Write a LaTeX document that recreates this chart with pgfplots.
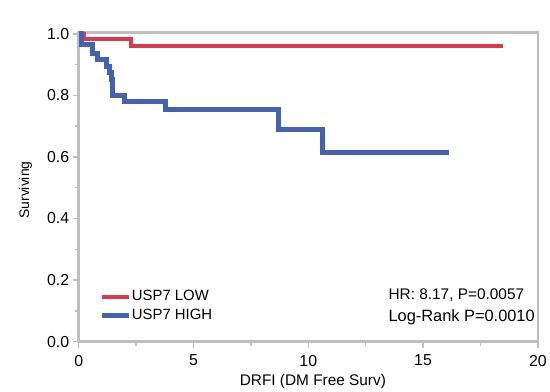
\documentclass[border=0pt]{standalone}
\usepackage{pgfplots}
\pgfplotsset{compat=1.18}
\usepackage{fontspec}
\setmainfont{Liberation Sans}
\definecolor{kmred}{HTML}{D93A4E}
\definecolor{kmblue}{HTML}{4562B0}
\definecolor{framegray}{HTML}{BEBEBE}
\begin{document}
\begin{tikzpicture}
\begin{axis}[
  scale only axis, width=461bp, height=310.5bp,
  xmin=0, xmax=20, ymin=0, ymax=1.005,
  axis line style={framegray, line width=2.5bp},
  xtick={0,5,10,15,20}, minor xtick={2.5,7.5,12.5,17.5},
  ytick={0,0.2,0.4,0.6,0.8,1.0}, minor ytick={0.1,0.3,0.5,0.7,0.9},
  yticklabel style={/pgf/number format/fixed, /pgf/number format/fixed zerofill, /pgf/number format/precision=1},
  xticklabel style={yshift=-4bp},
  /pgf/number format/assume math mode=true,
  tick align=outside, tick pos=left,
  major tick length=6bp, minor tick length=4bp,
  tick style={framegray, line width=1.5bp},
  ticklabel style={font=\fontsize{16}{18}\selectfont},
  xlabel={DRFI (DM Free Surv)},
  xlabel style={at={(axis description cs:0.51,-0.129)}, anchor=center, font=\fontsize{15.5}{18}\selectfont},
  ylabel={Surviving},
  ylabel style={at={(axis description cs:-0.116,0.49)}, anchor=center, font=\fontsize{14}{16}\selectfont},
  legend style={at={(axis cs:0.9,0.115)}, anchor=west, draw=none, fill=none,
    font=\fontsize{15}{17}\selectfont, row sep=3bp, inner sep=0pt,
    nodes={inner sep=1bp, text height=11bp, text depth=3bp}},
  legend cell align=left,
  legend image code/.code={\draw[#1, line width=4.5bp] (0bp,0bp) -- (27bp,0bp);},
  clip=false,
]
\addplot[const plot, kmred, line width=4bp] coordinates {
  (0,1) (0.25,0.982) (2.28,0.962) (18.5,0.962)
};
\addlegendentry{USP7 LOW}
\addplot[const plot, kmblue, line width=5bp] coordinates {
  (0,1) (0.12,0.964) (0.62,0.937) (0.80,0.916) (1.20,0.894) (1.34,0.873)
  (1.42,0.851) (1.49,0.800) (2.00,0.779) (3.80,0.754) (8.72,0.689)
  (10.63,0.614) (16.14,0.614)
};
\addlegendentry{USP7 HIGH}
\node[anchor=west, inner sep=0pt, font=\fontsize{15.5}{18}\selectfont] at (axis cs:13.49,0.150) {HR: 8.17, P=0.0057};
\node[anchor=west, inner sep=0pt, font=\fontsize{16.5}{19}\selectfont] at (axis cs:13.49,0.080) {Log-Rank P=0.0010};
\path (axis cs:-3.427,-0.1553) rectangle (axis cs:20.434,1.110);
\end{axis}
\end{tikzpicture}
\end{document}
